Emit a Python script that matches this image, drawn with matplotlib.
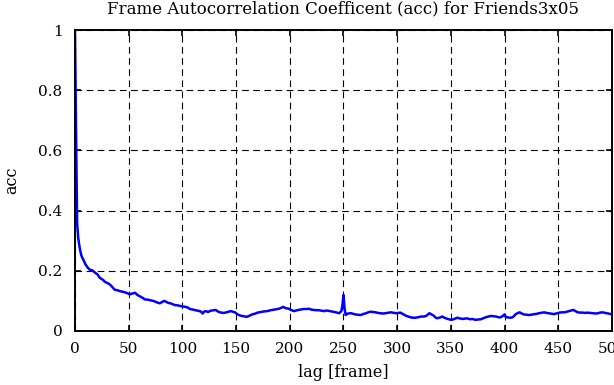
import numpy as np
import matplotlib
matplotlib.use("Agg")
import matplotlib.pyplot as plt

# acc values (lag in frames)
lags = [0, 1, 2, 3, 4, 5, 6, 8, 10, 12, 14, 16, 19, 21, 23, 26, 28, 31, 33, 35,
        37, 40, 42, 45, 47, 49, 51, 54, 56, 58, 61, 63, 65, 68, 70, 73, 75, 77, 79, 81,
        83, 85, 87, 89, 91, 93, 96, 98, 100, 103, 105, 107, 110, 112, 115, 117, 119, 120, 122, 124,
        126, 129, 131, 133, 135, 138, 140, 143, 145, 147, 149, 151, 154, 157, 160, 162, 165, 168, 170, 173,
        176, 179, 182, 184, 187, 190, 192, 194, 196, 199, 201, 204, 206, 208, 211, 213, 216, 218, 220, 222,
        225, 227, 230, 232, 234, 236, 239, 241, 243, 246, 248, 249, 250, 251, 252, 254, 257, 259, 261, 264,
        266, 268, 271, 273, 275, 278, 280, 282, 285, 287, 289, 292, 294, 297, 299, 301, 303, 306, 308, 311,
        313, 315, 317, 320, 322, 325, 327, 329, 330, 332, 334, 336, 337, 340, 342, 344, 347, 349, 351, 354,
        356, 358, 361, 363, 365, 368, 370, 373, 375, 378, 380, 382, 385, 387, 390, 392, 394, 396, 398, 400,
        401, 403, 405, 407, 409, 410, 412, 414, 416, 418, 421, 423, 426, 428, 430, 432, 435, 437, 439, 441,
        444, 446, 448, 451, 453, 456, 458, 460, 462, 464, 466, 468, 471, 473, 475, 477, 480, 482, 485, 487,
        489, 491, 494, 496, 498, 500]
acc = [1.0, 0.66, 0.36, 0.31, 0.285, 0.265, 0.25, 0.235, 0.22, 0.21, 0.203, 0.202, 0.193, 0.188, 0.177, 0.17, 0.163, 0.158, 0.153, 0.145,
       0.137, 0.135, 0.132, 0.13, 0.128, 0.125, 0.122, 0.125, 0.127, 0.12, 0.114, 0.11, 0.105, 0.104, 0.102, 0.1, 0.097, 0.094, 0.092, 0.096,
       0.1, 0.097, 0.093, 0.092, 0.089, 0.086, 0.085, 0.083, 0.082, 0.08, 0.078, 0.073, 0.071, 0.069, 0.067, 0.065, 0.058, 0.064, 0.066, 0.063,
       0.067, 0.069, 0.07, 0.065, 0.062, 0.06, 0.061, 0.064, 0.066, 0.064, 0.062, 0.056, 0.051, 0.049, 0.047, 0.05, 0.055, 0.058, 0.061, 0.063,
       0.065, 0.066, 0.069, 0.07, 0.072, 0.074, 0.077, 0.08, 0.076, 0.074, 0.07, 0.066, 0.068, 0.07, 0.072, 0.073, 0.073, 0.074, 0.071, 0.07,
       0.069, 0.069, 0.067, 0.066, 0.068, 0.067, 0.065, 0.064, 0.062, 0.059, 0.066, 0.085, 0.12, 0.075, 0.053, 0.058, 0.059, 0.057, 0.055, 0.054,
       0.053, 0.056, 0.059, 0.062, 0.064, 0.063, 0.062, 0.06, 0.059, 0.058, 0.059, 0.061, 0.062, 0.06, 0.059, 0.06, 0.061, 0.055, 0.051, 0.047,
       0.045, 0.044, 0.044, 0.046, 0.048, 0.048, 0.05, 0.056, 0.059, 0.055, 0.051, 0.044, 0.042, 0.045, 0.048, 0.044, 0.04, 0.038, 0.037, 0.041,
       0.044, 0.042, 0.04, 0.041, 0.042, 0.039, 0.04, 0.037, 0.038, 0.039, 0.042, 0.045, 0.048, 0.05, 0.049, 0.048, 0.046, 0.045, 0.049, 0.055,
       0.047, 0.045, 0.044, 0.045, 0.05, 0.055, 0.059, 0.062, 0.058, 0.055, 0.054, 0.053, 0.055, 0.056, 0.057, 0.059, 0.061, 0.062, 0.06, 0.059,
       0.057, 0.056, 0.058, 0.061, 0.062, 0.062, 0.064, 0.066, 0.068, 0.07, 0.066, 0.062, 0.061, 0.061, 0.06, 0.061, 0.06, 0.059, 0.058, 0.059,
       0.061, 0.062, 0.06, 0.059, 0.057, 0.055]

xticks = [0, 50, 100, 150, 200, 250, 300, 350, 400, 450, 500]
yticks = [0, 0.2, 0.4, 0.6, 0.8, 1.0]
ytick_labels = ["0", "0.2", "0.4", "0.6", "0.8", "1"]

plt.rcParams['font.family'] = ['DejaVu Serif']

fig = plt.figure(figsize=(6.14, 3.85), dpi=100)
ax = fig.add_axes([0.1221, 0.1403, 0.8746, 0.7817])

ax.plot(lags, acc, color='#0000ff', linewidth=1.8)

ax.set_xlim(0, 500)
ax.set_ylim(0, 1)
ax.set_xticks(xticks)
ax.set_yticks(yticks)
ax.set_yticklabels(ytick_labels)
ax.tick_params(direction='in', length=4, width=1.2, top=True, right=True,
               labelsize=11, colors='black')
ax.tick_params(axis='y', pad=9)
ax.tick_params(axis='x', pad=8)
ax.grid(True, color='black', linestyle=(0, (6, 4)), linewidth=0.8)
for s in ax.spines.values():
    s.set_linewidth(1.4)

ax.set_title("Frame Autocorrelation Coefficent (acc) for Friends3x05", fontsize=12, pad=12)
ax.set_xlabel("lag [frame]", fontsize=11.5, labelpad=6)
ax.set_ylabel("acc", fontsize=11.5, labelpad=13)

fig.savefig("out.png", dpi=100)
